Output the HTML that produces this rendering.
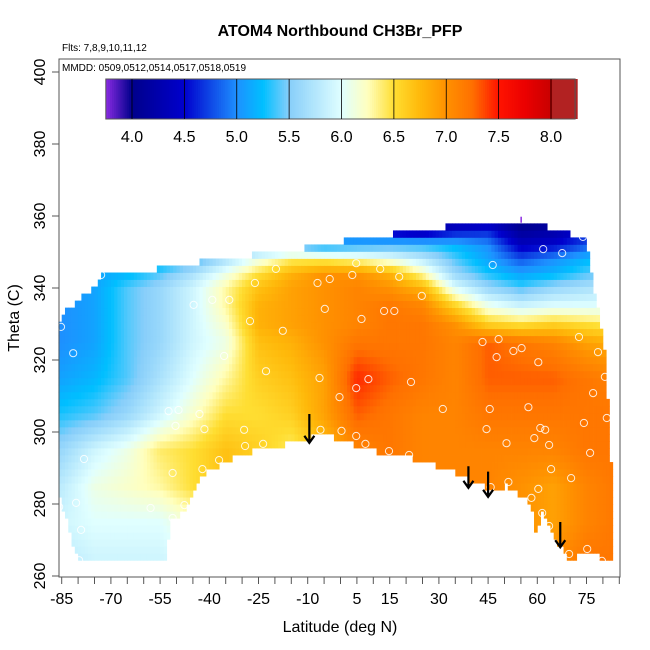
<!DOCTYPE html>
<html><head><meta charset="utf-8"><style>
html,body{margin:0;padding:0;background:#fff;}
svg{display:block;font-family:"Liberation Sans",Arial,sans-serif;}
</style></head><body>
<svg id="chart" width="650" height="650" viewBox="0 0 650 650">
<rect x="0" y="0" width="650" height="650" fill="#fff"/>
<text x="340" y="36" text-anchor="middle" font-size="16" font-weight="bold">ATOM4 Northbound CH3Br_PFP</text>
<text x="62" y="51" font-size="10">Flts: 7,8,9,10,11,12</text>
<g id="field"></g>
<g id="pts"></g>
<g id="arrows"></g>
<rect x="59" y="59" width="561" height="518" fill="none" stroke="#555" stroke-width="1"/>
<text x="62" y="71" font-size="10">MMDD: 0509,0512,0514,0517,0518,0519</text>
<g id="cbar"></g>
<g id="xaxis"></g>
<g id="yaxis"></g>
<text x="340" y="632" text-anchor="middle" font-size="16">Latitude (deg N)</text>
<text transform="translate(19,318) rotate(-90)" text-anchor="middle" font-size="16">Theta (C)</text>
</svg>
<script>
const latNodes=[-85,-75,-65,-55,-45,-35,-25,-15,-5,5,15,25,35,45,55,65,75,85];
const thetaNodes=[265,275,285,295,305,315,325,330,335,340,344,348,352,356,360];
const gridValues=[
[5.8,5.9,5.9,5.9,6.0,6.2,6.4,6.5,6.6,6.9,7.1,7.1,7.1,7.1,7.0,7.0,7.2,7.2],
[5.9,6.0,6.0,6.0,6.2,6.4,6.5,6.5,6.6,6.9,7.1,7.1,7.1,7.1,7.0,6.9,7.1,7.2],
[5.8,6.1,6.2,6.3,6.5,6.7,6.6,6.5,6.6,7.0,7.1,7.1,7.1,7.1,7.0,6.9,7.1,7.2],
[5.6,5.9,6.1,6.4,6.5,6.7,6.6,6.4,6.7,7.1,7.2,7.1,7.1,7.1,7.1,7.1,7.2,7.2],
[5.3,5.4,5.6,5.9,6.2,6.5,6.5,6.6,6.9,7.3,7.2,7.1,7.1,7.2,7.2,7.2,7.2,7.2],
[5.1,5.2,5.4,5.7,6.0,6.3,6.6,6.7,6.9,7.45,7.3,7.2,7.1,7.3,7.3,7.3,7.2,7.1],
[5.0,5.1,5.4,5.6,5.9,6.1,6.7,6.8,7.0,7.2,7.2,7.2,7.1,7.3,7.2,7.1,6.9,6.8],
[5.0,5.1,5.4,5.6,5.9,6.2,6.8,6.9,7.0,7.1,7.2,7.2,7.0,6.6,6.5,6.6,6.5,6.4],
[5.0,5.1,5.4,5.6,5.9,6.3,6.8,6.9,7.0,7.1,7.2,7.1,6.6,6.1,5.9,6.0,6.0,6.0],
[5.0,5.1,5.4,5.6,5.9,6.3,6.7,6.9,7.0,7.1,7.0,6.8,6.0,5.6,5.4,5.6,5.7,5.8],
[5.0,5.1,5.2,5.4,5.7,6.1,6.5,6.8,7.0,7.0,6.8,6.3,5.6,5.3,5.1,5.2,5.4,5.5],
[5.0,5.0,5.1,5.1,5.3,5.7,6.1,6.4,6.4,6.3,6.1,5.8,5.4,5.1,4.8,5.0,5.2,5.3],
[5.0,5.0,5.0,5.0,5.1,5.2,5.3,5.3,5.1,5.2,5.3,5.3,5.2,5.0,4.4,4.5,4.8,5.0],
[5.0,5.0,5.0,5.0,5.0,5.1,5.1,5.0,4.9,4.6,4.3,4.2,4.5,4.6,4.1,4.2,4.5,4.7],
[5.0,5.0,5.0,5.0,5.0,5.0,5.0,4.9,4.6,4.3,4.1,4.0,4.0,4.0,3.9,4.0,4.3,4.5]
];
const bottomLat=[-86,-80,-53,-52,-48,-42.5,-29,-23.6,-8.5,-2,5.5,8,21,34,46,51,58,60,61,65.7,69.6,77.5,79.7,83];
const bottomTheta=[283,264,264,274.7,278,288,294.4,295,298.6,298.6,296,295,293,289,284,285,280,268.6,278.6,270,264.4,267,264,264];
const topLat=[-86,-85,-80,-75,-73,-57,-56,-41,-25,-9,6,22,38,50,60.5,67,74.5,76,77,78,79,80,81,82,83];
const topTheta=[329,333,337,341,344,344,346.4,348,350,352,354.4,356.4,358.3,358.3,358.3,356.4,354.4,350,341,337,332,327,318,303,280];
const pointLat=[-73.0,-19.7,-26.1,-7.0,-3.3,-44.8,-39.1,-33.9,-27.6,-17.6,-4.8,-85.2,-81.5,-35.5,-22.7,-6.4,-0.3,-52.4,-49.4,-43.0,-50.3,-41.5,-29.4,-6.1,0.3,-29.1,-23.6,-78.2,-37.0,-42.1,-51.2,-80.6,-57.9,-47.6,-51.2,-85.8,-79.1,-79.7,
4.8,12.1,3.6,17.9,24.8,61.8,67.6,73.9,46.4,13.3,16.4,6.4,43.3,48.2,47.6,52.7,55.2,60.3,72.7,78.5,80.6,77.0,8.5,4.8,21.5,31.2,45.5,57.3,81.2,74.2,4.8,7.6,14.8,20.9,44.5,60.9,62.4,59.1,63.6,50.6,76.1,64.2,70.3,45.8,51.2,60.3,58.2,61.5,63.6,69.7,75.2,79.7];
const pointTheta=[343.6,345.3,341.4,341.4,342.5,335.3,336.7,336.7,330.8,328.1,334.2,329.2,321.9,321.1,316.9,315.0,309.7,305.8,306.1,305.0,301.7,300.8,300.6,300.6,300.3,296.1,296.7,292.5,292.2,289.7,288.6,280.3,278.9,279.7,276.1,279.2,272.8,264.4,
346.9,345.3,343.6,343.1,337.8,350.8,349.7,354.2,346.4,333.6,333.6,331.4,325.0,325.8,320.8,322.5,323.3,319.4,326.4,322.2,315.3,310.8,314.7,312.2,313.9,306.4,306.4,306.9,303.9,302.5,298.9,296.7,294.7,293.6,300.8,301.1,300.6,298.3,296.4,296.9,294.2,289.7,287.2,284.7,286.1,284.2,281.7,277.5,273.9,266.1,267.5,264.2];
const arrowLat=[-9.5,39,45,67];
const arrowTop=[305,290.5,289,275];
const arrowBottom=[297,284.5,282,268];
const cbarTicks=[4.0,4.5,5.0,5.5,6.0,6.5,7.0,7.5,8.0];
const xTickLabels=[-85,-70,-55,-40,-25,-10,5,15,30,45,60,75];
const yTickLabels=[260,280,300,320,340,360,380,400];

const NS='http://www.w3.org/2000/svg';
function X(lat){return 61.7+(lat+85)*3.28;}
function Y(th){return 576-(th-260)*3.6;}
function CB(v){return 132+(v-4.0)*104.75;}
const stops=[[3.75,[138,43,226]],[4.0,[0,0,139]],[4.5,[0,0,205]],[5.0,[30,144,255]],[5.25,[0,191,255]],[5.5,[135,206,250]],[6.0,[224,255,255]],[6.25,[255,255,190]],[6.5,[255,222,50]],[6.75,[255,185,10]],[7.0,[255,145,0]],[7.25,[255,112,0]],[7.5,[255,20,0]],[7.75,[235,0,0]],[8.0,[200,0,0]],[8.01,[178,34,34]],[8.3,[178,34,34]]];
function color(v){
  if(v<=stops[0][0])return 'rgb('+stops[0][1].join(',')+')';
  for(let i=1;i<stops.length;i++){if(v<=stops[i][0]){const a=stops[i-1],b=stops[i];const t=(v-a[0])/(b[0]-a[0]);return 'rgb('+[0,1,2].map(k=>Math.round(a[1][k]+t*(b[1][k]-a[1][k]))).join(',')+')';}}
  return 'rgb(178,34,34)';
}
function interp1(xs,ys,x){if(x<=xs[0])return ys[0];for(let i=1;i<xs.length;i++){if(x<=xs[i]){const t=(x-xs[i-1])/(xs[i]-xs[i-1]);return ys[i-1]+t*(ys[i]-ys[i-1]);}}return ys[ys.length-1];}
function idx(nodes,x){let i=0;while(i<nodes.length-2&&x>nodes[i+1])i++;let t=(x-nodes[i])/(nodes[i+1]-nodes[i]);t=Math.max(0,Math.min(1,t));return [i,t];}
function val(lat,th){const [i,ti]=idx(latNodes,lat);const [j,tj]=idx(thetaNodes,th);
  const a=gridValues[j][i],b=gridValues[j][i+1],c=gridValues[j+1][i],d=gridValues[j+1][i+1];
  return (a*(1-ti)+b*ti)*(1-tj)+(c*(1-ti)+d*ti)*tj;}
const field=document.getElementById('field');
for(let lat=-86;lat<83;lat+=1){
  const lc=lat+0.5;const bot=interp1(bottomLat,bottomTheta,lc),top=interp1(topLat,topTheta,lc);
  for(let th=262.4;th<362;th+=1.95){
    const tc=th+0.975;if(tc<bot||th+1.95>top+0.4)continue;
    const r=document.createElementNS(NS,'rect');
    
    
    r.setAttribute('x',X(lat).toFixed(2));r.setAttribute('y',Y(th+1.95).toFixed(2));
    r.setAttribute('width',(3.28+0.4).toFixed(2));r.setAttribute('height',(7.02+0.4).toFixed(2));
    r.setAttribute('fill',color(val(lc,tc)));field.appendChild(r);
  }
}
{const r=document.createElementNS(NS,'rect');


r.setAttribute('x',X(55)-0.5);r.setAttribute('y',Y(359.8));r.setAttribute('width',1.5);r.setAttribute('height',6);r.setAttribute('fill','#8a2be2');field.appendChild(r);}
const pts=document.getElementById('pts');
for(let i=0;i<pointLat.length;i++){
  const c=document.createElementNS(NS,'circle');
  
  
  c.setAttribute('cx',X(pointLat[i]).toFixed(1));c.setAttribute('cy',Y(pointTheta[i]).toFixed(1));c.setAttribute('r',3.6);
  c.setAttribute('fill','none');c.setAttribute('stroke','#fff');c.setAttribute('stroke-width','1');c.setAttribute('opacity','0.85');pts.appendChild(c);
}
const arr=document.getElementById('arrows');
for(let i=0;i<arrowLat.length;i++){
  const g=document.createElementNS(NS,'path');
  
  
  const x=X(arrowLat[i]),y1=Y(arrowTop[i]),y2=Y(arrowBottom[i]);
  g.setAttribute('d',`M${x},${y1}L${x},${y2}M${x-5},${y2-7}L${x},${y2}L${x+5},${y2-7}`);
  g.setAttribute('stroke','#000');g.setAttribute('stroke-width','2.2');g.setAttribute('fill','none');arr.appendChild(g);
}
const cb=document.getElementById('cbar');
for(let v=3.75;v<8.23;v+=0.02){
  const r=document.createElementNS(NS,'rect');
  
  
  r.setAttribute('x',CB(v).toFixed(2));r.setAttribute('y',79);r.setAttribute('width',2.6);r.setAttribute('height',40);r.setAttribute('fill',color(v+0.01));cb.appendChild(r);
}
{const r=document.createElementNS(NS,'rect');


r.setAttribute('x',CB(3.75));r.setAttribute('y',79);r.setAttribute('width',CB(8.23)-CB(3.75));r.setAttribute('height',40);r.setAttribute('fill','none');r.setAttribute('stroke','#555');cb.appendChild(r);}
cbarTicks.forEach(v=>{
  const l=document.createElementNS(NS,'line');
  
  
  l.setAttribute('x1',CB(v));l.setAttribute('x2',CB(v));l.setAttribute('y1',79);l.setAttribute('y2',119);l.setAttribute('stroke','#000');l.setAttribute('stroke-width','0.8');cb.appendChild(l);
  const t=document.createElementNS(NS,'text');
  
  
  t.setAttribute('x',CB(v));t.setAttribute('y',142);t.setAttribute('text-anchor','middle');t.setAttribute('font-size','16');t.textContent=v.toFixed(1);cb.appendChild(t);
});
const xa=document.getElementById('xaxis');
for(let lat=-85;lat<=85;lat+=5){
  const l=document.createElementNS(NS,'line');
  
  
  l.setAttribute('x1',X(lat));l.setAttribute('x2',X(lat));l.setAttribute('y1',577);l.setAttribute('y2',584);l.setAttribute('stroke','#555');xa.appendChild(l);
}
xTickLabels.forEach(v=>{
  const t=document.createElementNS(NS,'text');
  
  
  t.setAttribute('x',X(v));t.setAttribute('y',604);t.setAttribute('text-anchor','middle');t.setAttribute('font-size','16');t.textContent=String(v);xa.appendChild(t);
});
const ya=document.getElementById('yaxis');
yTickLabels.forEach(v=>{
  const l=document.createElementNS(NS,'line');
  
  
  l.setAttribute('x1',52);l.setAttribute('x2',59);l.setAttribute('y1',Y(v));l.setAttribute('y2',Y(v));l.setAttribute('stroke','#555');ya.appendChild(l);
  const t=document.createElementNS(NS,'text');
  
  
  t.setAttribute('transform',`translate(45,${Y(v)}) rotate(-90)`);t.setAttribute('text-anchor','middle');t.setAttribute('font-size','16');t.textContent=String(v);ya.appendChild(t);
});
</script>
</body></html>
